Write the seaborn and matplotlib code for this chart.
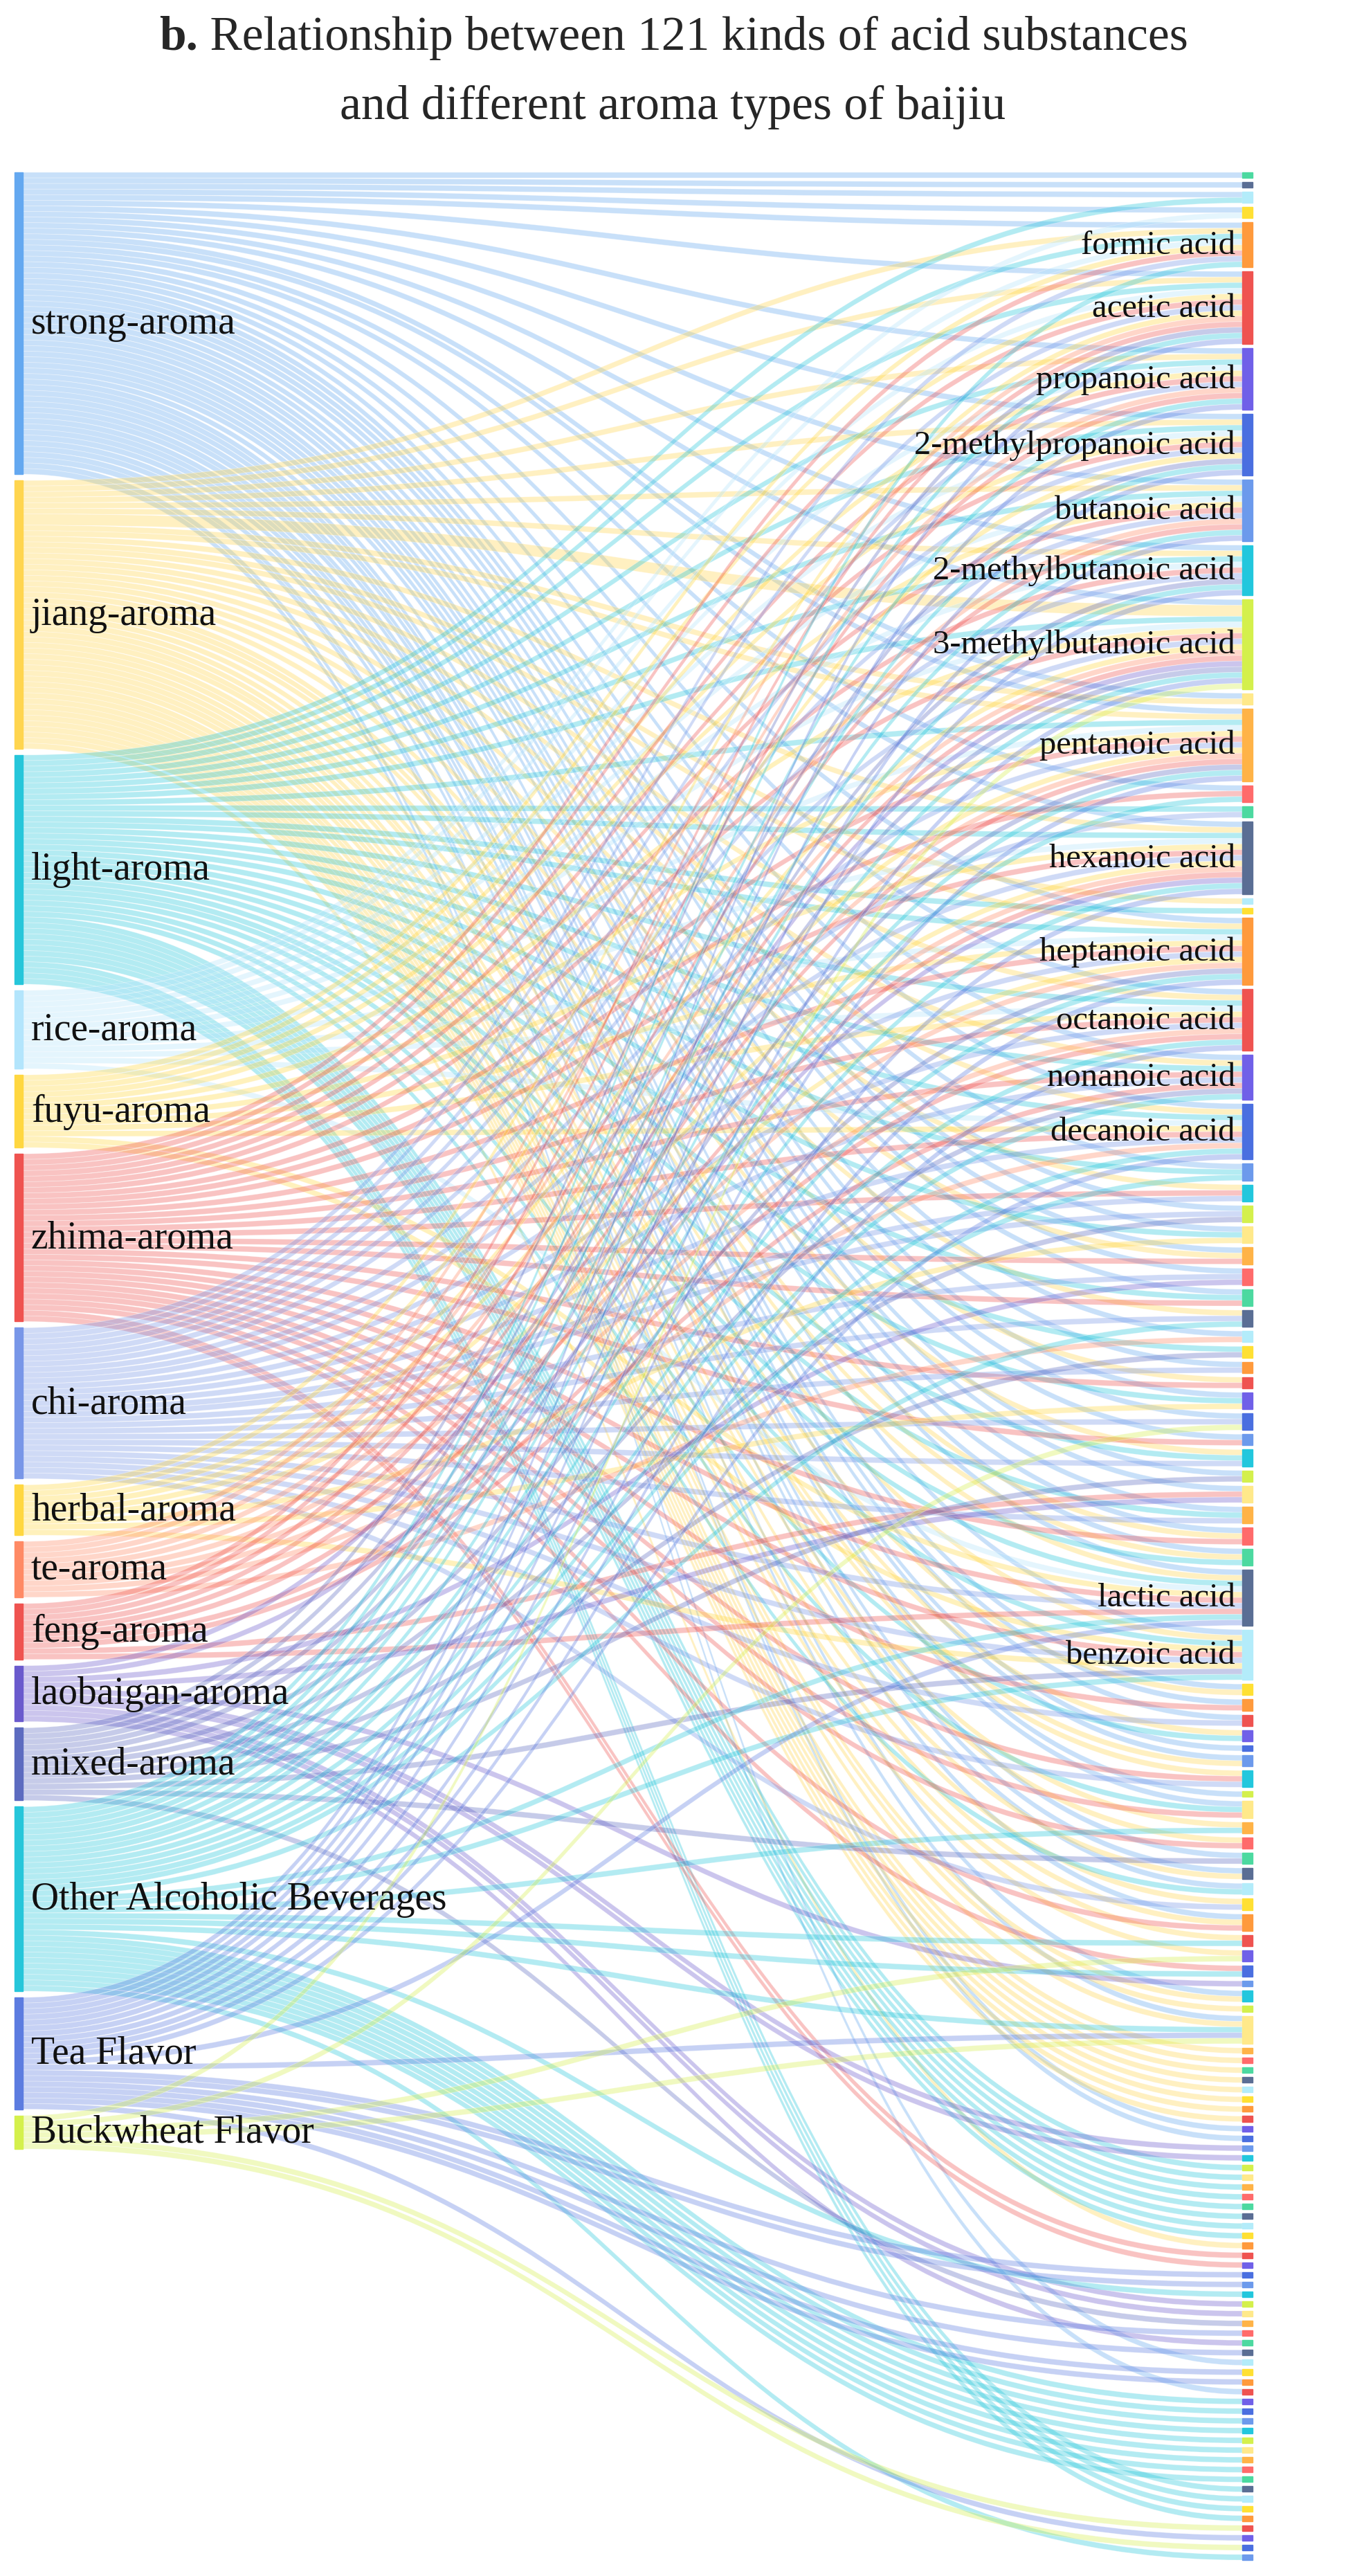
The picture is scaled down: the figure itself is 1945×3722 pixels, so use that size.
import matplotlib.pyplot as plt
import matplotlib.patches as mpatches
from matplotlib.path import Path
import numpy as np
import seaborn as sns

# aroma types (left column), code letters used in the link strings below
aromas = ["strong-aroma", "jiang-aroma", "light-aroma", "rice-aroma", "fuyu-aroma",
          "zhima-aroma", "chi-aroma", "herbal-aroma", "te-aroma", "feng-aroma",
          "laobaigan-aroma", "mixed-aroma", "Other Alcoholic Beverages", "Tea Flavor",
          "Buckwheat Flavor"]
codes = "abcdefghijklmno"
aroma_colors = ["#64A8F0", "#FFD54F", "#26C6DA", "#B3E5FC", "#FFD740", "#EF5350",
                "#7896E8", "#FFD740", "#FF8A65", "#EF5350", "#6A5ACD", "#5C6BC0",
                "#26C6DA", "#5C7CE0", "#D4F04C"]

# acids (right column), top to bottom; "" = unlabeled small node
acid_labels = (["", "", "", "",
                "formic acid", "acetic acid", "propanoic acid", "2-methylpropanoic acid",
                "butanoic acid", "2-methylbutanoic acid", "3-methylbutanoic acid", "",
                "pentanoic acid", "", "", "hexanoic acid", "", "",
                "heptanoic acid", "octanoic acid", "nonanoic acid", "decanoic acid"]
               + [""] * 21 + ["lactic acid", "benzoic acid"] + [""] * 18 + [""] * 58)
# aroma types linked to each acid (each letter = one unit)
acid_links = (["a", "a", "ac", "ad",
               "abcdefgm", "abcdefghijlmn", "abcdefgijmn", "abcdefghlmn",
               "abcdefgijmn", "abcdfglmn", "abbcdefghijklmno", "ab",
               "abcdefghijlmn", "afm", "cg", "abcdefghijkmn", "b", "c",
               "abcdefghilmn", "abcdefgijmn", "abcfgjml", "abcdefgimn"]
              + ["acm", "bfg", "agl", "ach", "abf", "agk", "acf", "bgm", "ai", "cl", "ag",
                 "bf", "ach", "ago", "af", "bcg", "al", "akj", "acg", "abf", "abc"]
              + ["abcdefgjmn", "abcefghml"]
              + ["ab", "af", "ag", "bc", "a", "ab", "bfg", "a", "acf", "bm", "bf", "al",
                 "ab", "ac", "bg", "abf", "bm", "bo"]
              + ["fm", "k", "ab", "b", "abmno"] + ["b"] * 8 + ["a", "a", "k", "k"]
              + ["c"] * 8
              + ["b", "f", "f", "n", "n", "m", "k", "k", "l", "n", "k", "n", "a", "n",
                 "n", "a"]
              + ["m"] * 9 + ["c"] * 4 + ["o", "n", "o", "m"])
acid_cycle = ["#4CD9A0", "#5A6E94", "#B3ECFA", "#FFE033", "#FF9A3C", "#EF5350", "#7060E8",
              "#4A6FE0", "#6C9AEC", "#22C7DD", "#D4F04C", "#FFE98A", "#FFB347", "#FF6B6B"]

sns.set_theme(style="white")
plt.rcParams["font.family"] = ["Liberation Serif", "DejaVu Serif"]

W, H = 1945, 3723
fig = plt.figure(figsize=(W / 100, H / 100), dpi=100)
ax = fig.add_axes([0, 0, 1, 1])
ax.set_xlim(0, W)
ax.set_ylim(H, 0)
ax.axis("off")

# link matrix
n_a, n_c = len(aromas), len(acid_links)
M = np.zeros((n_a, n_c))
for j, s in enumerate(acid_links):
    for ch in s:
        M[codes.index(ch), j] += 1

top, bottom = 250, 3700
gap_r, gap_l = 6, 9
k = (bottom - top - gap_r * (n_c - 1)) / M.sum()
xl0, xl1 = 21, 33
xr0, xr1 = 1795, 1810

# node positions
ry, y = [], top
for j in range(n_c):
    ry.append(y)
    y += M[:, j].sum() * k + gap_r
ly, y = [], top
for i in range(n_a):
    ly.append(y)
    y += M[i].sum() * k + gap_l

# links: left side ordered by target, right side ordered by source
loff = list(ly)
for i in range(n_a):
    for j in range(n_c):
        v = M[i, j]
        if v == 0:
            continue
        h = v * k
        y0 = loff[i]
        y1 = ry[j] + M[:i, j].sum() * k
        loff[i] += h
        xm = (xl1 + xr0) / 2
        verts = [(xl1, y0), (xm, y0), (xm, y1), (xr0, y1),
                 (xr0, y1 + h), (xm, y1 + h), (xm, y0 + h), (xl1, y0 + h), (xl1, y0)]
        codes_p = [Path.MOVETO, Path.CURVE4, Path.CURVE4, Path.CURVE4,
                   Path.LINETO, Path.CURVE4, Path.CURVE4, Path.CURVE4, Path.CLOSEPOLY]
        ax.add_patch(mpatches.PathPatch(Path(verts, codes_p), fc=aroma_colors[i],
                                        ec="white", lw=0.6, alpha=0.35))

# nodes
for i in range(n_a):
    h = M[i].sum() * k
    ax.add_patch(mpatches.Rectangle((xl0, ly[i]), xl1 - xl0, h, color=aroma_colors[i]))
    ax.text(45, ly[i] + h / 2, aromas[i], fontsize=40, va="center", ha="left", color="#111")
for j in range(n_c):
    h = M[:, j].sum() * k
    ax.add_patch(mpatches.Rectangle((xr0, ry[j]), xr1 - xr0, h,
                                    color=acid_cycle[j % len(acid_cycle)]))
    if acid_labels[j]:
        ax.text(1785, ry[j] + h / 2, acid_labels[j], fontsize=35, va="center", ha="right",
                color="#111")

t1 = ax.text(230, 55, "b.", fontsize=50, fontweight="bold", ha="left", va="center")
ax.annotate(" Relationship between 121 kinds of acid substances", xy=(1, 0.5),
            xycoords=t1, fontsize=50, ha="left", va="center")
ax.text(W / 2, 155, "and different aroma types of baijiu", fontsize=50, ha="center",
        va="center")

fig.savefig("out.png", dpi=100, facecolor="white")
